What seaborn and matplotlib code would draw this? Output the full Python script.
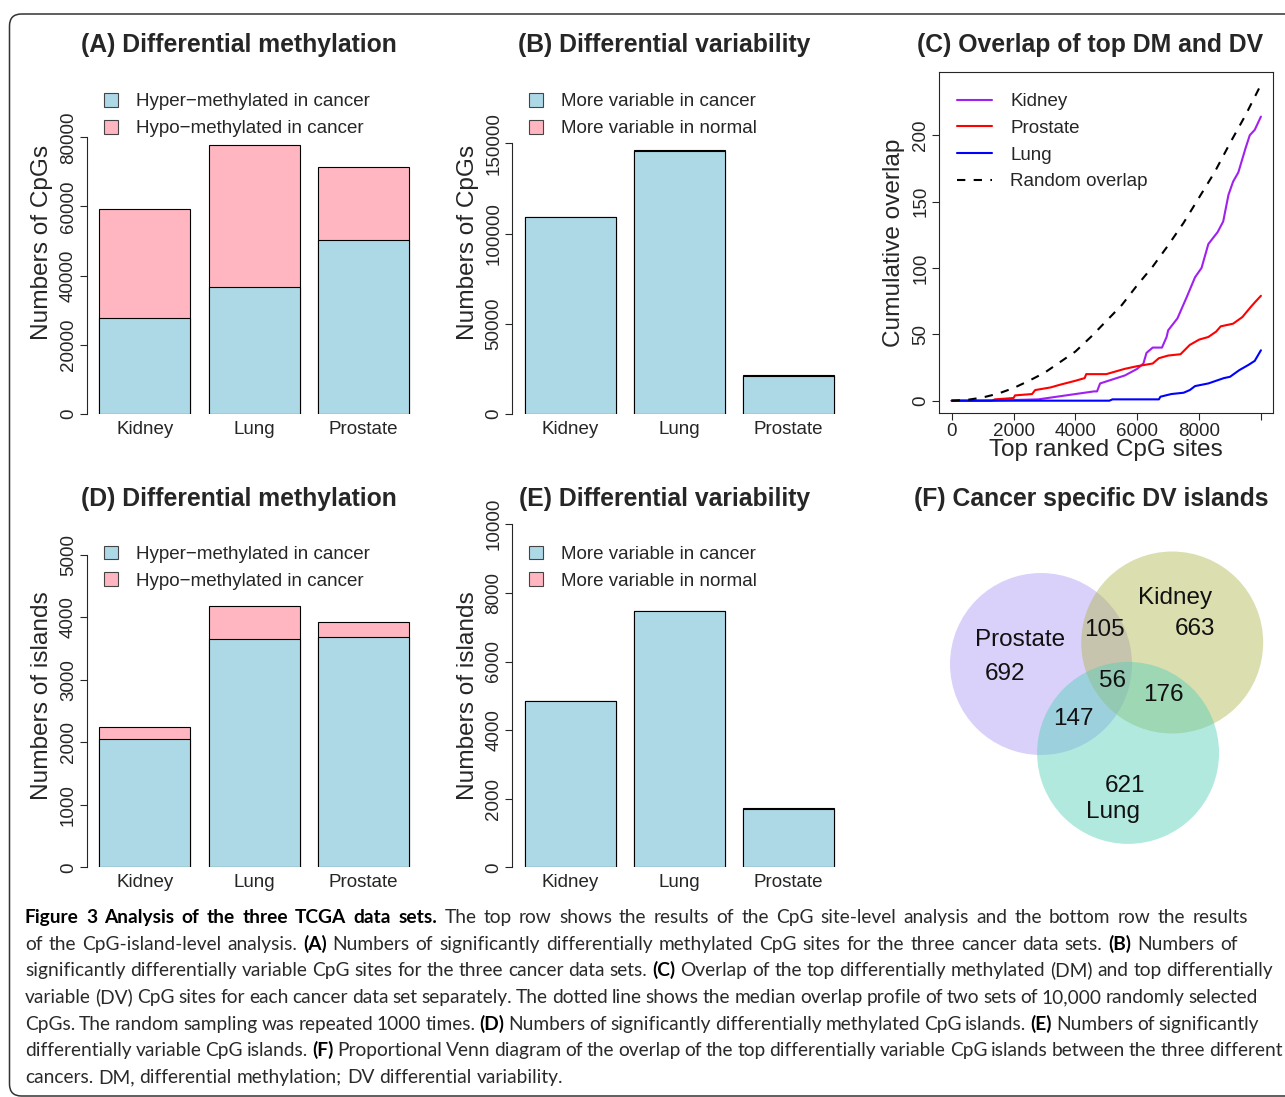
import numpy as np
import pandas as pd
import seaborn as sns
import matplotlib.pyplot as plt
import matplotlib.transforms as mtransforms
from matplotlib.patches import Patch, Circle, FancyBboxPatch
from matplotlib.lines import Line2D

cancers = ["Kidney", "Lung", "Prostate"]

# (A) CpG sites, differential methylation
site_hyper = [27700, 36700, 50400]
site_hypo = [31700, 41000, 21000]
# (B) CpG sites, differential variability
site_var_cancer = [109000, 145700, 20900]
site_var_normal = [400, 400, 900]
# (D) CpG islands, differential methylation
island_hyper = [2054, 3650, 3682]
island_hypo = [187, 534, 251]
# (E) CpG islands, differential variability
island_var_cancer = [4860, 7470, 1690]
island_var_normal = [0, 0, 50]

# (C) cumulative overlap of top DM and top DV sites
kidney_x = [0, 1000, 2000, 2800, 3400, 4000, 4600, 4700, 4800, 5200, 5600, 6000, 6200,
            6300, 6500, 6800, 6950, 7000, 7300, 7600, 7870, 8080, 8300, 8600, 8780, 8950,
            9100, 9270, 9500, 9640, 9800, 10000]
kidney_y = [0, 0, 0.5, 1, 3, 5, 7, 7, 13, 16, 19, 24, 28, 36, 40, 40, 48, 53, 62, 78, 93,
            100, 118, 127, 135, 155, 165, 172, 190, 200, 204, 214]
prostate_x = [0, 1300, 1400, 2000, 2050, 2600, 2700, 3200, 3500, 4000, 4300, 4350, 5000,
              5300, 5600, 6000, 6500, 6700, 7000, 7400, 7700, 8000, 8300, 8550, 8700, 9100,
              9400, 9650, 9800, 10000]
prostate_y = [0, 0, 1, 2, 4, 5, 8, 10, 12, 15, 17, 20, 20, 22, 24, 26, 28, 32, 34, 35, 42,
              46, 48, 52, 56, 58, 63, 70, 74, 79]
lung_x = [0, 5100, 5200, 6700, 6750, 7100, 7500, 7700, 7870, 8300, 8800, 9000, 9300, 9600,
          9800, 10000]
lung_y = [0, 0, 1, 1, 3, 5, 6, 8, 11, 13, 17, 18, 23, 27, 30, 38]
random_x = [0, 500, 1000, 1500, 2000, 2500, 3000, 3500, 4000, 4500, 5000, 5500, 6000, 6500,
            7000, 7500, 8000, 8500, 9000, 9500, 10000]
random_y = [0, 0.6, 2.4, 5.3, 9.5, 15, 21, 29, 37, 48, 60, 72, 87, 101, 117, 134, 153, 172,
            194, 215, 238]

# (F) cancer specific DV islands
venn_sets = ["Prostate", "Kidney", "Lung"]
venn_unique = [692, 663, 621]
venn_pairs = [105, 147, 176]   # Prostate&Kidney, Prostate&Lung, Kidney&Lung
venn_triple = 56

caption = [
    [("Figure 3 Analysis of the three TCGA data sets.", True),
     ("The top row shows the results of the CpG site-level analysis and the bottom row the results", False)],
    [("of the CpG-island-level analysis.", False), ("(A)", True),
     ("Numbers of significantly differentially methylated CpG sites for the three cancer data sets.", False),
     ("(B)", True), ("Numbers of", False)],
    [("significantly differentially variable CpG sites for the three cancer data sets.", False), ("(C)", True),
     ("Overlap of the top differentially methylated (DM) and top differentially", False)],
    [("variable (DV) CpG sites for each cancer data set separately. The dotted line shows the median overlap profile of two sets of 10,000 randomly selected", False)],
    [("CpGs. The random sampling was repeated 1000 times.", False), ("(D)", True),
     ("Numbers of significantly differentially methylated CpG islands.", False), ("(E)", True),
     ("Numbers of significantly", False)],
    [("differentially variable CpG islands.", False), ("(F)", True),
     ("Proportional Venn diagram of the overlap of the top differentially variable CpG islands between the three different", False)],
    [("cancers. DM, differential methylation; DV differential variability.", False)],
]
caption_ends = [1248, 1238, 1273, 1258, 1258, 1278, None]

sns.set_style("ticks")
plt.rcParams["font.family"] = ["Liberation Sans", "DejaVu Sans"]
plt.rcParams["axes.linewidth"] = 0.8

W, H = 1285, 1097
fig = plt.figure(figsize=(W / 100, H / 100), dpi=100)
PX = mtransforms.Affine2D().scale(1 / W, -1 / H).translate(0, 1) + fig.transFigure

BLUE, PINK = "#ADD8E6", "#FFB6C1"
TICK, LAB, TITLE = 13.5, 17.6, 17.8


def px_axes(l, t, r, b):
    return fig.add_axes([l / W, 1 - b / H, (r - l) / W, (b - t) / H])


def bar_panel(left, zero_px, top_tick_px, yticks, lower, upper, ylabel, labels, legend_top):
    ppu = (zero_px - top_tick_px) / yticks[-1]
    ytop = yticks[-1] * 1.18
    ax = px_axes(left, zero_px - ytop * ppu, left + 343, zero_px)
    ax.set_facecolor("none")
    df = pd.DataFrame({"cancer": cancers, "lower": lower, "total": np.add(lower, upper)})
    for col, c in [("total", PINK), ("lower", BLUE)]:
        sns.barplot(data=df, x="cancer", y=col, color=c, saturation=1, width=0.834,
                    edgecolor="black", linewidth=0.8, errorbar=None, ax=ax)
    ax.set_xlim(-0.53, 2.61)
    ax.set_ylim(0, ytop)
    sns.despine(ax=ax, bottom=True)
    ax.spines["left"].set_bounds(yticks[0], yticks[-1])
    ax.set_yticks(yticks)
    ax.set_yticklabels([str(v) for v in yticks], rotation=90, va="center")
    ax.tick_params(axis="y", length=5.3, width=0.8, pad=2, labelsize=TICK)
    ax.tick_params(axis="x", length=0, pad=5, labelsize=TICK)
    ax.set_xlabel("")
    ax.set_ylabel(ylabel, fontsize=LAB, va="center")
    ax.yaxis.set_label_coords(left - 44.5, zero_px - 172, transform=PX)
    handles = [Patch(facecolor=BLUE, edgecolor="#444", linewidth=0.8),
               Patch(facecolor=PINK, edgecolor="#444", linewidth=0.8)]
    ax.legend(handles, labels, loc="upper left", frameon=False, fontsize=TICK,
              bbox_to_anchor=(left + 17, legend_top), bbox_transform=PX, borderpad=0,
              borderaxespad=0, handlelength=0.75, handleheight=0.75, handletextpad=0.96,
              labelspacing=0.51)
    return ax


meth_labels = ["Hyper\u2212methylated in cancer", "Hypo\u2212methylated in cancer"]
var_labels = ["More variable in cancer", "More variable in normal"]

bar_panel(87, 414, 137.3, [0, 20000, 40000, 60000, 80000], site_hyper, site_hypo,
          "Numbers of CpGs", meth_labels, 93)
bar_panel(512.3, 414, 143.3, [0, 50000, 100000, 150000], site_var_cancer, site_var_normal,
          "Numbers of CpGs", var_labels, 93)
bar_panel(87, 867.3, 555, [0, 1000, 2000, 3000, 4000, 5000], island_hyper, island_hypo,
          "Numbers of islands", meth_labels, 545.5)
bar_panel(512.3, 867.3, 524.3, [0, 2000, 4000, 6000, 8000, 10000], island_var_cancer,
          island_var_normal, "Numbers of islands", var_labels, 545.5)

# (C) overlap curves
series = [("Kidney", kidney_x, kidney_y), ("Prostate", prostate_x, prostate_y),
          ("Lung", lung_x, lung_y), ("Random overlap", random_x, random_y)]
long = pd.concat([pd.DataFrame({"rank": x, "overlap": y, "set": n}) for n, x, y in series])
palette = {"Kidney": "#A020F0", "Prostate": "#FF0000", "Lung": "#0000FF", "Random overlap": "black"}
dashes = {"Kidney": "", "Prostate": "", "Lung": "", "Random overlap": (4, 4)}

axc = px_axes(939.3, 71.7, 1273.3, 413.3)
sns.lineplot(data=long, x="rank", y="overlap", hue="set", style="set", palette=palette,
             dashes=dashes, estimator=None, sort=False, linewidth=1.5, legend=False, ax=axc)
axc.set_xlim(-400, 10400)
axc.set_ylim(-9.5, 247.8)
for s in axc.spines.values():
    s.set_linewidth(0.8)
axc.set_xticks([0, 2000, 4000, 6000, 8000, 10000])
axc.set_xticklabels(["0", "2000", "4000", "6000", "8000", ""])
axc.set_yticks([0, 50, 100, 150, 200])
axc.set_yticklabels(["0", "50", "100", "150", "200"], rotation=90, va="center")
axc.tick_params(length=5.3, width=0.8, pad=2, labelsize=TICK)
axc.set_xlabel("Top ranked CpG sites", fontsize=LAB, va="center")
axc.xaxis.set_label_coords(1106, 450, transform=PX)
axc.set_ylabel("Cumulative overlap", fontsize=LAB, va="center")
axc.yaxis.set_label_coords(894, 243, transform=PX)
handles = [Line2D([], [], color=palette[n], lw=1.5, linestyle="--" if n == "Random overlap" else "-",
                  dashes=(4, 4) if n == "Random overlap" else (None, None)) for n, _, _ in series]
axc.legend(handles, [n for n, _, _ in series], loc="upper left", frameon=False, fontsize=TICK,
           bbox_to_anchor=(957, 93), bbox_transform=PX, borderpad=0, borderaxespad=0,
           handlelength=1.87, handletextpad=0.96, labelspacing=0.51)

# (F) proportional Venn diagram
axf = px_axes(900, 540, 1285, 860)
axf.set_xlim(900, 1285)
axf.set_ylim(860, 540)
axf.axis("off")

totals = [venn_unique[0] + venn_pairs[0] + venn_pairs[1] + venn_triple,
          venn_unique[1] + venn_pairs[0] + venn_pairs[2] + venn_triple,
          venn_unique[2] + venn_pairs[1] + venn_pairs[2] + venn_triple]
scale = 5.1
radii = [np.sqrt(t / np.pi) * scale for t in totals]


def lens_area(d, r1, r2):
    a1 = r1 ** 2 * np.arccos((d * d + r1 * r1 - r2 * r2) / (2 * d * r1))
    a2 = r2 ** 2 * np.arccos((d * d + r2 * r2 - r1 * r1) / (2 * d * r2))
    k = 0.5 * np.sqrt((-d + r1 + r2) * (d + r1 - r2) * (d - r1 + r2) * (d + r1 + r2))
    return a1 + a2 - k


def solve_distance(area, r1, r2):
    lo, hi = abs(r1 - r2) + 1e-6, r1 + r2 - 1e-6
    for _ in range(80):
        mid = (lo + hi) / 2
        if lens_area(mid, r1, r2) > area:
            lo = mid
        else:
            hi = mid
    return (lo + hi) / 2


s2 = scale ** 2
d_pk = solve_distance((venn_pairs[0] + venn_triple) * s2, radii[0], radii[1])
d_pl = solve_distance((venn_pairs[1] + venn_triple) * s2, radii[0], radii[2])
d_kl = solve_distance((venn_pairs[2] + venn_triple) * s2, radii[1], radii[2])
ang = np.deg2rad(-9.3)
u = np.array([np.cos(ang), np.sin(ang)])
nrm = np.array([-np.sin(ang), np.cos(ang)])
p_c = np.array([1041.0, 664.0])
k_c = p_c + d_pk * u
a = (d_pk ** 2 + d_pl ** 2 - d_kl ** 2) / (2 * d_pk)
l_c = p_c + a * u + np.sqrt(d_pl ** 2 - a ** 2) * nrm
venn_colors = ["#AD9BF4", "#B1B64F", "#54D0BA"]
for c, r, col in zip([p_c, k_c, l_c], radii, venn_colors):
    axf.add_patch(Circle(c, r, facecolor=col, edgecolor="none", alpha=0.45))

venn_text = [("Prostate", 1020, 640), (str(venn_unique[0]), 1005, 674),
             ("Kidney", 1175, 598), (str(venn_unique[1]), 1195, 629),
             (str(venn_pairs[0]), 1104, 630), (str(venn_triple), 1112, 681),
             (str(venn_pairs[2]), 1163, 695), (str(venn_pairs[1]), 1073, 719),
             (str(venn_unique[2]), 1125, 786), ("Lung", 1113, 812)]
for s, x, y in venn_text:
    axf.text(x, y, s, ha="center", va="center", fontsize=17.5, color="#111")

# panel titles
titles = [("(A) Differential methylation", 239, 45), ("(B) Differential variability", 664.5, 45),
          ("(C) Overlap of top DM and DV", 1090, 45), ("(D) Differential methylation", 239, 499),
          ("(E) Differential variability", 664.5, 499), ("(F) Cancer specific DV islands", 1091, 499)]
for s, x, y in titles:
    fig.text(x, y, s, transform=PX, ha="center", va="center", fontsize=TITLE, fontweight="bold")

# frame
fig.add_artist(FancyBboxPatch((9.5, 14), 1300, 1082, boxstyle="round,pad=0,rounding_size=12",
                              transform=PX, fill=False, edgecolor="#333", linewidth=1.1))

# caption: word by word, mixed bold, spacing stretched to match the original line ends
CAP_FONT = ["Lato", "DejaVu Sans"]
CAP_X = 25
renderer = fig.canvas.get_renderer()


def text_width(s, size, bold):
    t = fig.text(0, 0, s, fontsize=size, family=CAP_FONT, fontweight="bold" if bold else "normal")
    w = t.get_window_extent(renderer).width
    t.remove()
    return w


def line_words(pieces):
    return [(w, bold) for s, bold in pieces for w in s.split(" ")]


def natural_width(pieces, size):
    words = line_words(pieces)
    space = text_width("a a", size, False) - text_width("aa", size, False)
    return sum(text_width(w, size, b) for w, b in words) + space * (len(words) - 1), space


fitted = [(line, end) for line, end in zip(caption, caption_ends) if end is not None]
widths12 = [natural_width(line, 12)[0] for line, _ in fitted]
cap_size = 12 * sum(end - CAP_X for _, end in fitted) / sum(widths12)

for i, (line, end) in enumerate(zip(caption, caption_ends)):
    words = line_words(line)
    w_nat, space = natural_width(line, cap_size)
    gap = space
    if end is not None:
        gap = max(space + (end - CAP_X - w_nat) / max(len(words) - 1, 1), 0.8 * space)
    pos = CAP_X
    for w, bold in words:
        fig.text(pos, 923 + i * 26.65, w, transform=PX, fontsize=cap_size, family=CAP_FONT,
                 va="baseline", fontweight="bold" if bold else "normal",
                 color="black" if bold else "#2a2a2a")
        pos += text_width(w, cap_size, bold) + gap

fig.savefig("out.png", dpi=100)
